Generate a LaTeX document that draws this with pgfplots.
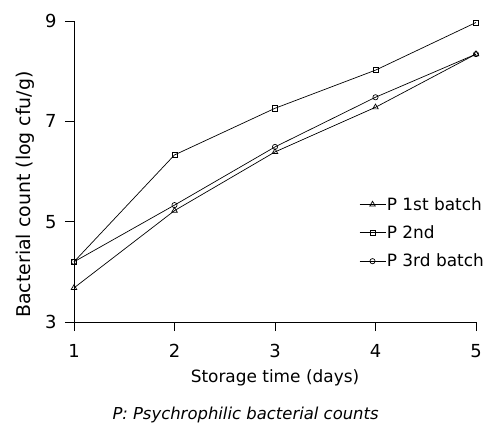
\documentclass[border=0pt]{standalone}
\usepackage{fontspec}
\setmainfont{DejaVu Sans}
\usepackage{pgfplots}
\pgfplotsset{compat=1.18}

\begin{document}
\begin{tikzpicture}[x=1bp,y=1bp]
\begin{axis}[
    scale only axis,
    width=402bp, height=301bp,
    xmin=1, xmax=5, ymin=3, ymax=9,
    axis x line*=bottom, axis y line*=left,
    axis line style={line width=0.8bp, -},
    xtick={1,2,3,4,5}, ytick={3,5,7,9},
    tick align=outside, major tick length=9bp,
    tick style={line width=0.8bp, black},
    /pgf/number format/assume math mode=true,
    tick label style={font=\fontsize{18}{20}\selectfont},
    xticklabel style={yshift=-10bp},
    yticklabel style={xshift=-5bp},
    xlabel={Storage time (days)},
    ylabel={Bacterial count (log cfu/g)},
    xlabel style={font=\fontsize{17}{20}\selectfont, yshift=-5bp},
    ylabel style={font=\fontsize{19}{22}\selectfont, yshift=4bp, xshift=-23bp},
    clip=false,
    legend style={at={(1.03,0.425)}, anchor=north east, draw=none, fill=none,
        font=\fontsize{17}{20}\selectfont, row sep=12bp,
        nodes={inner sep=1bp}},
    legend cell align=left,
    legend image code/.code={
        \draw[mark repeat=2, mark phase=2] plot coordinates {(-4bp,0bp) (9bp,0bp) (22bp,0bp)};
    },
    every axis plot/.append style={black, line width=0.7bp, mark size=2.6bp,
        mark options={solid, fill=white, line width=0.7bp}},
]
\addplot[mark=triangle, mark size=3.2bp] coordinates {(1,3.68) (2,5.22) (3,6.39) (4,7.28) (5,8.34)};
\addplot[mark=square] coordinates {(1,4.20) (2,6.33) (3,7.26) (4,8.02) (5,8.97)};
\addplot[mark=o] coordinates {(1,4.20) (2,5.33) (3,6.49) (4,7.48) (5,8.34)};
\legend{P 1st batch, P 2nd, P 3rd batch}
\node[font=\fontsize{16.5}{20}\selectfont\itshape, anchor=north, inner sep=0pt] at (rel axis cs:0.427,0) [yshift=-85bp] {P: Psychrophilic bacterial counts};
\end{axis}
\pgfresetboundingbox
\path (-74bp,-106bp) rectangle (416bp,322bp);
\end{tikzpicture}
\end{document}
